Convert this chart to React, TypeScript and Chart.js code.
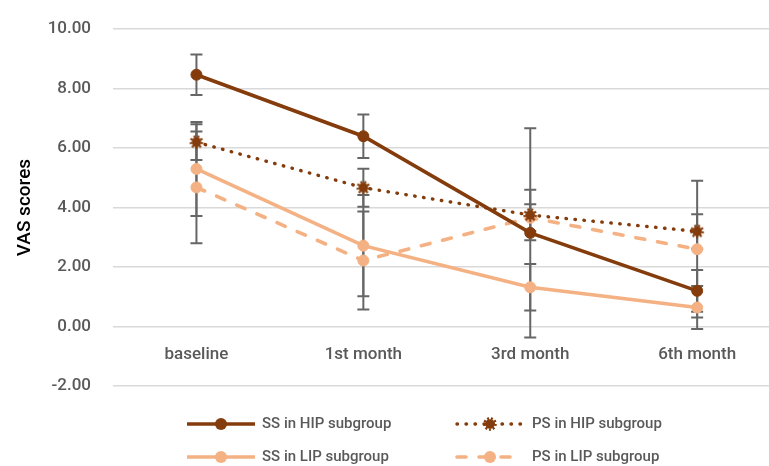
import React, { useEffect, useRef } from "react";
import { Chart, registerables } from "chart.js";

Chart.register(...registerables);

const categories = ["baseline", "1st month", "3rd month", "6th month"];
const seriesNames = ["SS in HIP subgroup", "PS in HIP subgroup", "SS in LIP subgroup", "PS in LIP subgroup"];
const ssHip = [8.47, 6.4, 3.15, 1.2];
const psHip = [6.2, 4.67, 3.75, 3.2];
const ssLip = [5.3, 2.72, 1.32, 0.64];
const psLip = [4.68, 2.22, 3.66, 2.6];
const ssHipErr = [0.68, 0.73, 3.52, 0.7];
const psHipErr = [0.6, 0.64, 0.85, 0.58];
const ssLipErr = [1.58, 1.7, 0.78, 0.72];
const psLipErr = [1.88, 1.65, 0.45, 2.3];
const yMin = -2;
const yMax = 10;
const yStep = 2;
const yTitle = "VAS scores";

const DARK = "#843C0C";
const LIGHT = "#F4B183";
const TEXT = "#595959";
const FONT = "Roboto";
const SHIFT = 3;

function makeFuzzyDot(color: string): HTMLCanvasElement {
  const c = document.createElement("canvas");
  const s = 18;
  c.width = s;
  c.height = s;
  const ctx = c.getContext("2d")!;
  ctx.fillStyle = color;
  ctx.beginPath();
  ctx.arc(s / 2, s / 2, 4.8, 0, Math.PI * 2);
  ctx.fill();
  ctx.strokeStyle = color;
  ctx.lineWidth = 2.4;
  ctx.setLineDash([2.0, 1.8]);
  ctx.beginPath();
  ctx.arc(s / 2, s / 2, 5.6, 0, Math.PI * 2);
  ctx.stroke();
  return c;
}

export default function App() {
  const ref = useRef<HTMLCanvasElement | null>(null);

  useEffect(() => {
    if (!ref.current) return;
    const fuzzy = makeFuzzyDot(DARK);
    const errs = [ssHipErr, psHipErr, ssLipErr, psLipErr];

    const errorBars = {
      id: "errorBars",
      beforeDatasetsDraw(chart: any) {
        const ctx = chart.ctx;
        const ys = chart.scales.y;
        ctx.save();
        ctx.strokeStyle = "#666666";
        ctx.lineWidth = 2;
        chart.data.datasets.forEach((ds: any, i: number) => {
          const meta = chart.getDatasetMeta(i);
          meta.data.forEach((pt: any, j: number) => {
            const v = ds.data[j];
            const e = errs[i][j];
            const x = pt.x;
            const y1 = ys.getPixelForValue(v + e);
            const y2 = ys.getPixelForValue(v - e);
            ctx.beginPath();
            ctx.moveTo(x, y1);
            ctx.lineTo(x, y2);
            ctx.moveTo(x - 6, y1);
            ctx.lineTo(x + 6, y1);
            ctx.moveTo(x - 6, y2);
            ctx.lineTo(x + 6, y2);
            ctx.stroke();
          });
        });
        ctx.restore();
      },
    };

    const customLegend = {
      id: "customLegend",
      afterDraw(chart: any) {
        const ctx = chart.ctx;
        const cols = [
          { x0: 187, x1: 255, tx: 262 },
          { x0: 457, x1: 523, tx: 532 },
        ];
        const rows = [424 + SHIFT, 457 + SHIFT];
        chart.data.datasets.forEach((ds: any, i: number) => {
          const col = cols[i % 2];
          const y = rows[Math.floor(i / 2)];
          ctx.save();
          ctx.strokeStyle = ds.borderColor;
          ctx.lineWidth = ds.borderWidth;
          ctx.lineCap = ds.borderCapStyle || "butt";
          ctx.setLineDash(ds.borderDash || []);
          ctx.beginPath();
          ctx.moveTo(col.x0, y);
          ctx.lineTo(col.x1, y);
          ctx.stroke();
          ctx.setLineDash([]);
          const mx = (col.x0 + col.x1) / 2;
          if (ds.pointStyle && typeof ds.pointStyle !== "string") {
            const img = ds.pointStyle;
            ctx.drawImage(img, mx - img.width / 2, y - img.height / 2);
          } else {
            ctx.fillStyle = ds.pointBackgroundColor;
            ctx.beginPath();
            ctx.arc(mx, y, ds.pointRadius + 0.5, 0, Math.PI * 2);
            ctx.fill();
          }
          ctx.fillStyle = TEXT;
          ctx.font = `500 15px ${FONT}`;
          ctx.textBaseline = "middle";
          ctx.textAlign = "left";
          ctx.fillText(ds.label, col.tx, y);
          ctx.restore();
        });
      },
    };

    const chart = new Chart(ref.current, {
      type: "line",
      data: {
        labels: categories,
        datasets: [
          {
            label: seriesNames[0],
            data: ssHip,
            borderColor: DARK,
            backgroundColor: DARK,
            borderWidth: 3.6,
            pointRadius: 5.5,
            pointBackgroundColor: DARK,
            pointBorderColor: DARK,
            pointBorderWidth: 1,
            fill: false,
          },
          {
            label: seriesNames[1],
            data: psHip,
            borderColor: DARK,
            backgroundColor: DARK,
            borderWidth: 3.4,
            borderDash: [0.5, 8.5],
            borderCapStyle: "round",
            pointStyle: fuzzy,
            pointRadius: 6,
            fill: false,
          },
          {
            label: seriesNames[2],
            data: ssLip,
            borderColor: LIGHT,
            backgroundColor: LIGHT,
            borderWidth: 3.6,
            pointRadius: 5.5,
            pointBackgroundColor: LIGHT,
            pointBorderColor: LIGHT,
            pointBorderWidth: 1,
            fill: false,
          },
          {
            label: seriesNames[3],
            data: psLip,
            borderColor: LIGHT,
            backgroundColor: LIGHT,
            borderWidth: 3.6,
            borderDash: [9, 13],
            borderCapStyle: "round",
            pointRadius: 5.5,
            pointBackgroundColor: LIGHT,
            pointBorderColor: LIGHT,
            pointBorderWidth: 1,
            fill: false,
          },
        ] as any,
      },
      options: {
        responsive: true,
        maintainAspectRatio: false,
        animation: false,
        layout: { padding: { left: 10, right: 9, top: 18, bottom: 80 } },
        plugins: {
          legend: { display: false },
          tooltip: { enabled: false },
        },
        scales: {
          x: {
            type: "category",
            position: { y: 0 } as any,
            offset: true,
            grid: { display: false, drawTicks: false },
            border: { display: false },
            ticks: {
              color: TEXT,
              font: { family: FONT, size: 17, weight: "500" },
              padding: 18,
              maxRotation: 0,
              autoSkip: false,
            },
          },
          y: {
            min: yMin,
            max: yMax,
            ticks: {
              stepSize: yStep,
              color: TEXT,
              font: { family: FONT, size: 17, weight: "500" },
              padding: 22,
              callback: (v: any) => Number(v).toFixed(2),
            },
            grid: { color: "#d9d9d9", lineWidth: 1.5, drawTicks: false },
            border: { display: false },
            title: {
              display: true,
              text: yTitle,
              color: "#000000",
              font: { family: FONT, size: 19, weight: "500" },
              padding: { top: 4, bottom: 4 },
            },
            afterFit: (s: any) => {
              s.width = 103;
            },
          },
        },
      } as any,
      plugins: [errorBars, customLegend],
    });
    return () => chart.destroy();
  }, []);

  return (
    <div style={{ position: "fixed", left: 0, top: 0, width: 769, height: 466, overflow: "hidden", background: "#fff" }}>
      <div style={{ position: "absolute", left: 0, top: -SHIFT, width: 790, height: 466 + SHIFT }}>
        <canvas ref={ref} style={{ display: "block" }} />
      </div>
    </div>
  );
}
